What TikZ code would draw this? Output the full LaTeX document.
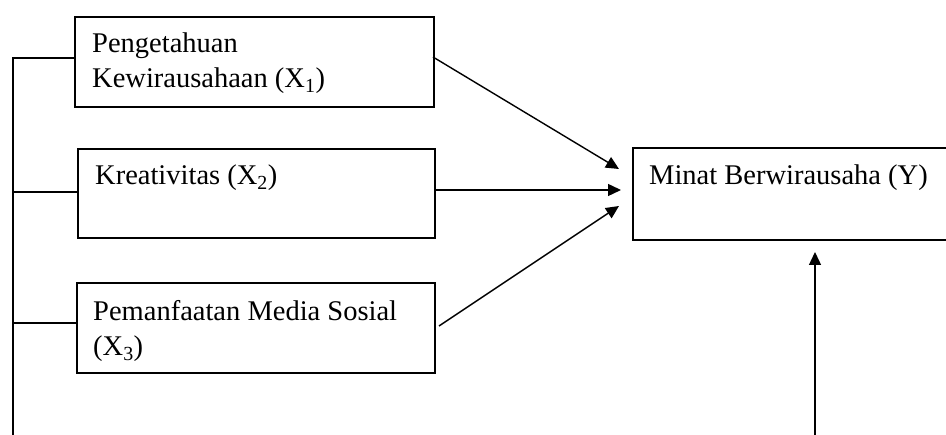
\documentclass[tikz,border=0pt]{standalone}
\usepackage{fontspec}
\setmainfont{Liberation Serif}
\usetikzlibrary{arrows.meta,calc}
\tikzset{
  varbox/.style={draw, line width=1.6pt, rectangle, inner sep=0pt, anchor=north west},
  boxtext/.style={anchor=base west, inner sep=0pt, align=left,
    font=\fontsize{28.5}{35}\selectfont},
  link/.style={line width=1.5pt},
  flow/.style={line width=1.4pt, -{Triangle[length=13pt,width=12pt]}}
}
\newcommand{\sub}[1]{\textsubscript{#1}}
\begin{document}
\begin{tikzpicture}[x=1pt,y=-1pt]
\useasboundingbox (0,0) rectangle (946,435);
\clip (0,0) rectangle (946,435);

% independent variables
\node[varbox, minimum width=359pt, minimum height=90pt] (x1) at (74,16) {};
\node[varbox, minimum width=357pt, minimum height=89pt] (x2) at (77,148) {};
\node[varbox, minimum width=358pt, minimum height=90pt] (x3) at (76,282) {};
% dependent variable (runs past the right margin)
\node[varbox, minimum width=340pt, minimum height=92pt] (y) at (632,147) {};

% labels: base anchor sits on the last line of each label
\node[boxtext] (t1) at ($(x1.north west)+(18,72)$) {Pengetahuan\\Kewirausahaan (X\sub{1})};
\node[boxtext] (t2) at ($(x2.north west)+(18,37)$) {Kreativitas (X\sub{2})};
\node[boxtext] (t3) at ($(x3.north west)+(17,74)$) {Pemanfaatan Media Sosial\\(X\sub{3})};
\node[boxtext] (ty) at ($(y.north west)+(17,38)$) {Minat Berwirausaha (Y)};

% left bracket joining the three variables
\coordinate (top) at (13,58);
\coordinate (bot) at (13,440);
\coordinate (mid2) at (13,192);
\coordinate (mid3) at (13,323);
\draw[link] (bot) -- (top) -- (x1.west |- top);
\draw[link] (mid2) -- (x2.west |- mid2);
\draw[link] (mid3) -- (x3.west |- mid3);

% arrows into Y
\coordinate (a1s) at (433,57);
\coordinate (a1e) at (619,169);
\coordinate (a2s) at (434,190);
\coordinate (a2e) at (621,190);
\coordinate (a3s) at (439,326);
\coordinate (a3e) at (619,206);
\draw[flow] (a1s) -- (a1e);
\draw[flow] (a2s) -- (a2e);
\draw[flow] (a3s) -- (a3e);

% arrow from below
\coordinate (vb) at (815,440);
\coordinate (vt) at (815,252);
\draw[flow] (vb) -- (vt);
\end{tikzpicture}
\end{document}
